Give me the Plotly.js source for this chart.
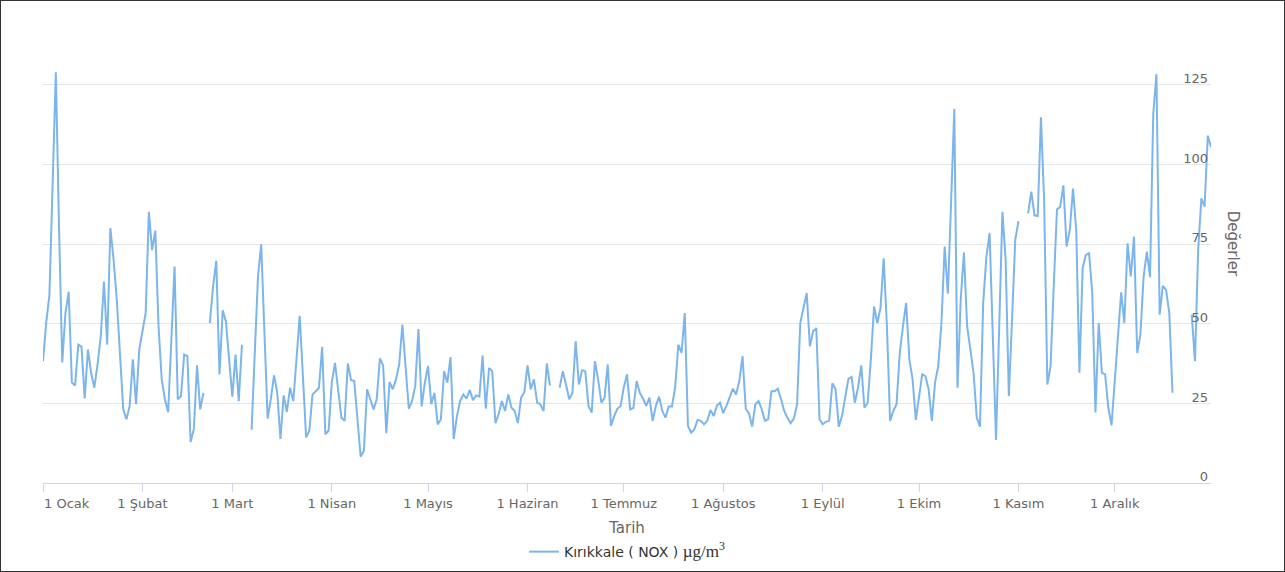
<!DOCTYPE html>
<html>
<head>
<meta charset="utf-8">
<script src="https://cdn.plot.ly/plotly-3.0.1.min.js"></script>
<style>
html,body{margin:0;padding:0;background:#fff;}
#chart{width:1285px;height:572px;position:absolute;left:0;top:0;}
#frame{position:absolute;left:0;top:0;width:1285px;height:572px;box-sizing:border-box;border:1px solid #333;pointer-events:none;}
</style>
</head>
<body>
<div id="chart"></div>
<div id="frame"></div>
<script>
const year = 2019;

const ocak    = [38.2, 50.3, 59, 95, 128.9, 80, 37.8, 53.4, 60, 31.5, 30.6, 43.4, 42.8, 26.5, 41.9, 34.6, 29.9, 37.2, 46, 63.2, 43.4, 80, 70, 57.5, 40.9, 23.1, 20, 24.2, 38.8, 24.7, 41.9];
const subat   = [47.1, 53.4, 85.1, 73.1, 79.2, 49.2, 32.5, 26.3, 22.2, 44, 67.9, 26.3, 27.3, 40.3, 39.8, 12.9, 16.9, 36.9, 23.1, 28.3, null, 50.2, 61.7, 69.7, 34.1, 54.2, 50.7, 38.8];
const mart    = [27.1, 40.3, 25.7, 43.4, null, null, 16.7, 38.8, 64.8, 74.9, 49.2, 20.2, 26.3, 33.8, 28.3, 13.8, 27.5, 22.3, 29.9, 25.7, 38.8, 52.5, 33.5, 14.3, 16.4, 27.8, 28.8, 29.9, 42.7, 15.3, 16.4];
const nisan   = [31.5, 37.7, 29.4, 20.5, 19.5, 37.5, 32.3, 32, 20, 8.3, 10.1, 29.4, 26.3, 23.1, 26.3, 39.1, 36.9, 15.6, 31.7, 29.4, 32.5, 37.2, 49.7, 35.6, 23.3, 25.7, 30.4, 48.3, 24, 31.5];
const mayis   = [36.7, 24.7, 28.3, 18.4, 20, 35.1, 31.5, 39.5, 13.8, 21, 25.7, 27.8, 26.5, 29.2, 26, 27.5, 27.1, 40, 23.3, 36.1, 35.1, 18.8, 21.6, 25.7, 22.6, 27.8, 23.6, 22.6, 18.8, 26.8, 28.5];
const haziran = [36.9, 29.4, 32.5, 25.2, 24.7, 22.6, 37.5, 30.6, null, null, 29.9, 35.1, 30.9, 26.3, 28.3, 44.5, 30.9, 35.4, 35.1, 24.2, 22.1, 38.2, 32.5, 25.2, 26.8, 37.2, 17.9, 21, 23.3, 24.2];
const temmuz  = [30, 34.1, 23.1, 23.6, 32, 28.3, 26.5, 24.2, 26.8, 19.5, 24.2, 27.1, 22.6, 20.5, 24, 24, 29.9, 43.4, 40.8, 53.3, 17.9, 15.8, 16.9, 19.8, 19.5, 18.4, 19.5, 22.9, 21, 24.2, 25.2];
const agustos = [21.9, 24.2, 27.1, 29.6, 27.8, 32, 39.8, 23.3, 21.9, 17.7, 24.7, 25.7, 23.1, 19.5, 20, 28.8, 28.8, 29.6, 26.3, 22.6, 20.5, 18.8, 20.2, 24.7, 50.2, 55.4, 59.6, 42.9, 47.6, 48.6, 20];
const eylul   = [18.4, 19.2, 19.5, 31.3, 29.4, 17.7, 21, 27.1, 32.7, 33.3, 25.2, 29.9, 36.9, 23.6, 25.2, 38.8, 55.4, 50.2, 54.9, 70.5, 49.2, 19.5, 22.6, 24.7, 40.8, 49.2, 56.5, 38.8, 32.5, 19.8];
const ekim    = [27.3, 34.1, 33.5, 29.4, 19.5, 31.5, 36.7, 50.2, 74.2, 59.4, 88, 117.4, 29.9, 57.5, 72.3, 49.2, 41.9, 34.6, 20.5, 17.7, 56.5, 71, 78.5, 47.1, 13.5, 49.2, 85.1, 70, 27.3, 51.3, 76.3];
const kasim   = [82.2, null, null, 84.6, 91.4, 84, 83.8, 114.8, 88.8, 30.9, 36.7, 62, 85.8, 86.7, 93.4, 74.2, 79.4, 92.4, 79.4, 34.6, 67.4, 71.6, 72.1, 59.6, 22.1, 50.2, 34.6, 34.1, 23.6, 18.1];
const aralik  = [32, 46, 59.8, 50.2, 75.2, 64.8, 77.3, 40.8, 46.6, 64.8, 72.6, 64.6, 115.8, 128.3, 52.8, 61.9, 60.6, 53.3, 28.3, null, null, null, null, null, 52.8, 38.2, 73.1, 89.3, 86.7, 109, 105.4];

const monthValues = [ocak, subat, mart, nisan, mayis, haziran, temmuz, agustos, eylul, ekim, kasim, aralik];
const monthLabels = ['1 Ocak', '1 Şubat', '1 Mart', '1 Nisan', '1 Mayıs', '1 Haziran', '1 Temmuz', '1 Ağustos', '1 Eylül', '1 Ekim', '1 Kasım', '1 Aralık'];
const yTickVals = [0, 25, 50, 75, 100, 125, 150];
const yTickText = ['0', '25', '50', '75', '100', '125', ''];
const seriesName = 'Kırıkkale ( NOX ) <span style="font-family:\'Liberation Serif\',serif;font-size:17px">µg/m<sup>3</sup></span>';

const pad = n => String(n).padStart(2, '0');
const xs = [], ys = [];
monthValues.forEach((arr, m) => arr.forEach((v, i) => {
  xs.push(`${year}-${pad(m + 1)}-${pad(i + 1)}`);
  ys.push(v);
}));
const tickDates = monthLabels.map((_, m) => `${year}-${pad(m + 1)}-01`);
// the first label is justified to start at its tick (kept inside the plot), as in the original
const tickText = monthLabels.map((t, i) => i === 0 ? '' : t);

const FONT = 'DejaVu Sans, Verdana, sans-serif';

const trace = {
  type: 'scatter', mode: 'lines', x: xs, y: ys, name: seriesName,
  line: {color: '#7cb5ec', width: 2}, connectgaps: false, hoverinfo: 'x+y'
};

const layout = {
  width: 1285, height: 572,
  margin: {l: 43, r: 74, t: 5, b: 88},
  paper_bgcolor: '#fff', plot_bgcolor: '#fff',
  font: {family: FONT, color: '#666'},
  showlegend: true,
  legend: {orientation: 'h', x: 0.5, xanchor: 'center', y: -0.142, yanchor: 'middle',
           font: {family: FONT, size: 14, color: '#333'}},
  xaxis: {
    type: 'date', range: [`${year}-01-01`, `${year}-12-31`],
    tickmode: 'array', tickvals: tickDates, ticktext: tickText,
    ticks: 'outside', ticklen: 8, tickcolor: '#ccd6eb', tickwidth: 1,
    showline: true, linecolor: '#ccd6eb', linewidth: 1,
    showgrid: false, zeroline: false,
    tickfont: {family: FONT, size: 13, color: '#666'},
    title: {text: 'Tarih', font: {family: FONT, size: 15, color: '#666'}, standoff: 12}
  },
  yaxis: {
    side: 'right', range: [0, 150],
    tickmode: 'array', tickvals: yTickVals, ticktext: yTickText,
    ticklabelposition: 'inside top', ticks: '', ticklabelshift: 3, ticklabeloverflow: 'allow',
    gridcolor: '#e6e6e6', gridwidth: 1, zeroline: false, showline: false,
    tickfont: {family: FONT, size: 13, color: '#666'}
  },
  annotations: [
    {
      text: 'Değerler', xref: 'paper', yref: 'paper', x: 1.019, y: 0.5,
      xanchor: 'center', yanchor: 'middle', textangle: 90, showarrow: false,
      font: {family: FONT, size: 15, color: '#666'}
    },
    {
      text: monthLabels[0], xref: 'x', yref: 'paper', x: tickDates[0], y: -0.0438,
      xanchor: 'left', yanchor: 'middle', xshift: -1, showarrow: false,
      font: {family: FONT, size: 13, color: '#666'}
    }
  ]
};

Plotly.newPlot('chart', [trace], layout, {displayModeBar: false, staticPlot: true});
</script>
</body>
</html>
